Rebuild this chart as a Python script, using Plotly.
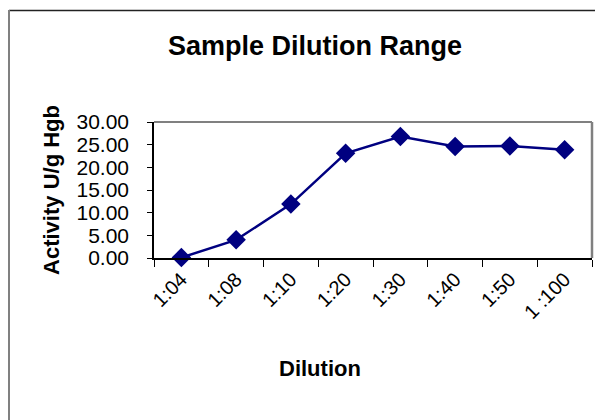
import plotly.graph_objects as go

dilutions = ["1:04", "1:08", "1:10", "1:20", "1:30", "1:40", "1:50", "1 :100"]
activity = [0.1, 4.0, 11.9, 23.1, 26.8, 24.6, 24.7, 23.9]
y_ticks = [0, 5, 10, 15, 20, 25, 30]

# page body has an 8px default margin; lay the figure out in page pixels
OFF = 8
W, H = 603 - OFF, 420 - OFF
L, R, T, B = 154 - OFF, 592 - OFF, 122 - OFF, 258 - OFF

fig = go.Figure(go.Scatter(
    x=dilutions, y=activity, mode="lines+markers",
    line=dict(color="#000080", width=2.5),
    marker=dict(symbol="diamond", size=15, color="#000080"),
    cliponaxis=False,
))

def px_x(p):
    return (p - OFF - L) / (R - L)

def px_y(p):
    return (B - (p - OFF)) / (B - T)

fig.update_layout(
    width=W, height=H,
    margin=dict(l=L, r=W - R, t=T, b=H - B, autoexpand=False),
    paper_bgcolor="white", plot_bgcolor="white",
    showlegend=False,
    font=dict(family="Arial, Liberation Sans, sans-serif", color="black"),
    title=dict(text="<b>Sample Dilution Range</b>", x=(315 - OFF) / W, xref="container",
               xanchor="center", y=1 - (46 - OFF) / H, yref="container", yanchor="middle",
               font=dict(size=27, color="black"), automargin=False),
    annotations=[
        dict(text="<b>Dilution</b>", xref="paper", yref="paper",
             x=px_x(320), y=px_y(368), xanchor="center", yanchor="middle",
             showarrow=False, font=dict(size=22, color="black")),
    ],
    shapes=[
        # outer chart frame
        dict(type="line", xref="paper", yref="paper", x0=px_x(9), x1=px_x(620),
             y0=px_y(10.5), y1=px_y(10.5), line=dict(color="#222222", width=1.5)),
        dict(type="line", xref="paper", yref="paper", x0=px_x(9), x1=px_x(9),
             y0=px_y(10), y1=px_y(440), line=dict(color="#808080", width=2)),
        # plot area border (top and right)
        dict(type="line", xref="paper", yref="paper", x0=0, x1=1, y0=1, y1=1,
             line=dict(color="#808080", width=2)),
        dict(type="line", xref="paper", yref="paper", x0=1, x1=1, y0=0, y1=1,
             line=dict(color="#808080", width=2.5)),
    ],
)

fig.update_xaxes(
    type="category", categoryorder="array", categoryarray=dilutions,
    range=[-0.5, len(dilutions) - 0.5], automargin=False,
    showline=True, linecolor="black", linewidth=1.5,
    ticks="outside", tickson="boundaries", ticklen=7, tickcolor="black", tickwidth=1,
    tickangle=-45, tickfont=dict(size=20),
    showgrid=False, zeroline=False,
)

fig.update_yaxes(
    range=[0, 30], tickvals=y_ticks, tickformat=".2f", automargin=False,
    showline=True, linecolor="black", linewidth=1.5,
    ticks="outside", ticklen=5, tickcolor="black", tickwidth=1,
    tickfont=dict(size=21), ticklabelstandoff=14,
    showgrid=False, zeroline=False,
    title=dict(text="<b>Activity U/g Hgb</b>", font=dict(size=22), standoff=11),
)

fig.write_html("out.html")
